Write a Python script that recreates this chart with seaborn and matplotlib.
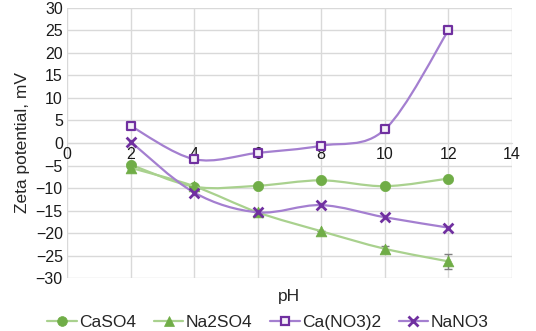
import numpy as np
import pandas as pd
import seaborn as sns
import matplotlib.pyplot as plt
from matplotlib.path import Path
from matplotlib.patches import PathPatch
from matplotlib.lines import Line2D

### DATA
ph = [2, 4, 6, 8, 10, 12]
caso4 = [-4.8, -9.7, -9.5, -8.3, -9.6, -7.9]
na2so4 = [-5.5, -9.6, -15.4, -19.6, -23.5, -26.3]
na2so4_err = [0, 0, 0, 0, 0.7, 1.6]
cano3 = [3.8, -3.6, -2.2, -0.6, 3.0, 25.0]
nano3 = [0.3, -11.0, -15.4, -13.8, -16.5, -18.8]

x_ticks = [0, 2, 4, 6, 8, 10, 12, 14]
y_ticks = [-30, -25, -20, -15, -10, -5, 0, 5, 10, 15, 20, 25, 30]

green_mk = '#70AD47'
green_ln = '#A9D18E'
purple_mk = '#7030A0'
purple_ln = '#A47FD0'

series = [
    # name, values, line colour, marker, size, face, edge, lw
    ('CaSO4', caso4, green_ln, 'o', 55, green_mk, green_mk, 0.5),
    ('Na2SO4', na2so4, green_ln, '^', 60, green_mk, green_mk, 0.5),
    ('Ca(NO3)2', cano3, purple_ln, 's', 38, '#F4F0F8', purple_mk, 1.6),
    ('NaNO3', nano3, purple_ln, 'x', 50, purple_mk, purple_mk, 2.0),
]


def smooth_path(xs, ys):
    # Excel-like smoothed line: cubic bezier through the points
    p = np.column_stack([xs, ys]).astype(float)
    n = len(p)
    verts = [p[0]]
    codes = [Path.MOVETO]
    for i in range(n - 1):
        p0 = p[i - 1] if i > 0 else p[i]
        p3 = p[i + 2] if i + 2 < n else p[i + 1]
        c1 = p[i] + (p[i + 1] - p0) / 6.0
        c2 = p[i + 1] - (p3 - p[i]) / 6.0
        verts += [c1, c2, p[i + 1]]
        codes += [Path.CURVE4] * 3
    return Path(verts, codes)


### FIGURE
sns.set_style('white')
plt.rcParams['font.family'] = ['Liberation Sans', 'DejaVu Sans']

fig = plt.figure(figsize=(5.36, 3.31), dpi=100)
ax = fig.add_axes([0.125, 0.160, 0.830, 0.816])

ax.set_xlim(0, 14)
ax.set_ylim(-30, 30)
ax.set_xticks(x_ticks)
ax.set_yticks(y_ticks)
ax.set_yticklabels([str(v).replace('-', '\u2212') for v in y_ticks])
ax.grid(True, color='#D9D9D9', linewidth=1.0)
ax.set_axisbelow(True)

for side in ['top', 'right', 'left']:
    ax.spines[side].set_visible(False)
ax.spines['bottom'].set_position(('data', 0))
ax.spines['bottom'].set_color('#D9D9D9')
ax.tick_params(axis='both', length=0, labelsize=11.5, colors='#1a1a1a', pad=3)

# error bars
ax.errorbar(ph, na2so4, yerr=na2so4_err, fmt='none', ecolor='#7F7F7F',
            elinewidth=1, capsize=3, zorder=2)

for i, (name, vals, lc, mk, size, fc, ec, lw) in enumerate(series):
    ax.add_patch(PathPatch(smooth_path(ph, vals), fill=False, edgecolor=lc,
                           linewidth=1.6, zorder=3 + i * 2))
    df = pd.DataFrame({'pH': ph, 'zeta': vals})
    if mk == 'x':
        sns.scatterplot(data=df, x='pH', y='zeta', marker=mk, s=size,
                        color=ec, linewidth=lw, ax=ax, zorder=4 + i * 2)
    else:
        sns.scatterplot(data=df, x='pH', y='zeta', marker=mk, s=size,
                        facecolor=fc, edgecolor=ec, linewidth=lw, ax=ax,
                        zorder=4 + i * 2)

ax.set_xlabel('pH', fontsize=12.5)
ax.xaxis.set_label_coords(0.5, -0.04)
ax.set_ylabel('Zeta potential, mV', fontsize=12.5, labelpad=4)

handles = []
for name, vals, lc, mk, size, fc, ec, lw in series:
    handles.append(Line2D([0], [0], color=lc, linewidth=1.6, marker=mk,
                          markersize=np.sqrt(size) * 0.95,
                          markerfacecolor=fc, markeredgecolor=ec,
                          markeredgewidth=lw if mk in ('x', 's') else 0.5,
                          label=name))
fig.legend(handles=handles, loc='center', ncol=4, frameon=False,
           bbox_to_anchor=(0.5, 0.027), fontsize=12.5, handlelength=1.7,
           handletextpad=0.15, columnspacing=1.0)

plt.savefig('out.png', dpi=100)
plt.close()
